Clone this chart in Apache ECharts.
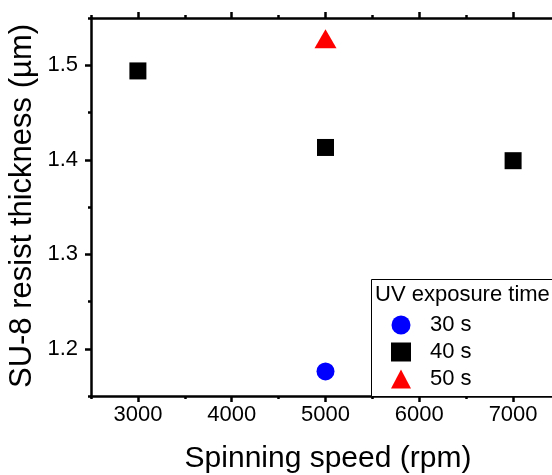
<!DOCTYPE html>
<html>
<head>
<meta charset="utf-8">
<script src="https://cdn.jsdelivr.net/npm/echarts@6/dist/echarts.min.js"></script>
<style>html,body{margin:0;padding:0;background:#fff;}#chart{width:552px;height:475px;}</style>
</head>
<body>
<div id="chart"></div>
<script>
// Resist thickness vs spin speed, grouped by UV exposure time
const seriesNames = ['30 s', '40 s', '50 s'];
const speed30 = [5000];
const thick30 = [1.176];
const speed40 = [3000, 5000, 7000];
const thick40 = [1.494, 1.413, 1.399];
const speed50 = [5000];
const thick50 = [1.528];

const xMajorTicks = [3000, 4000, 5000, 6000, 7000];
const xMinorTicks = [2500, 3500, 4500, 5500, 6500, 7500];
const yMajorTicks = [1.2, 1.3, 1.4, 1.5];
const yMinorTicks = [1.15, 1.25, 1.35, 1.45, 1.55];

const FONT = 'Liberation Sans, Arial, sans-serif';
const X_MIN = 2500, X_MAX = 7500, Y_MIN = 1.15, Y_MAX = 1.55;

function pairs(xs, ys) { return xs.map((x, i) => [x, ys[i]]); }

function xAxisDef(pos, ticks, len, showLine, labels) {
  return {
    type: 'value', position: pos, min: X_MIN, max: X_MAX,
    axisLine: { show: showLine, lineStyle: { color: '#000', width: 2.5 } },
    axisTick: { show: true, customValues: ticks, length: len, inside: false, lineStyle: { color: '#000', width: 2.5 } },
    axisLabel: labels ? { show: true, customValues: xMajorTicks, color: '#000', fontSize: 22, fontFamily: FONT, margin: 8, formatter: v => String(v) } : { show: false },
    splitLine: { show: false }
  };
}
function yAxisDef(pos, ticks, len, showLine, labels) {
  return {
    type: 'value', position: pos, min: Y_MIN, max: Y_MAX,
    axisLine: { show: showLine, lineStyle: { color: '#000', width: 2.5 } },
    axisTick: { show: true, customValues: ticks, length: len, inside: false, lineStyle: { color: '#000', width: 2.5 } },
    axisLabel: labels ? { show: true, customValues: yMajorTicks, color: '#000', fontSize: 22, fontFamily: FONT, margin: 13, formatter: v => v.toFixed(1) } : { show: false },
    splitLine: { show: false }
  };
}

const chart = echarts.init(document.getElementById('chart'), null, { renderer: 'canvas' });
chart.setOption({
  animation: false,
  backgroundColor: '#fff',
  grid: { left: 91, top: 18, width: 469, height: 378, containLabel: false, outerBoundsMode: 'none' },
  xAxis: [
    xAxisDef('bottom', xMajorTicks, 6, true, true),
    xAxisDef('bottom', xMinorTicks, 3, false, false),
    xAxisDef('top', xMajorTicks, 6, true, false),
    xAxisDef('top', xMinorTicks, 3, false, false)
  ],
  yAxis: [
    yAxisDef('left', yMajorTicks, 6, true, true),
    yAxisDef('left', yMinorTicks, 3, false, false),
    yAxisDef('right', yMajorTicks, 6, true, false)
  ],
  legend: {
    orient: 'vertical', left: 386, top: 309, itemGap: 5,
    itemWidth: 20, itemHeight: 19,
    textStyle: { color: '#000', fontSize: 22, fontFamily: FONT, padding: [0, 0, 0, 14] },
    data: [
      { name: seriesNames[0], icon: 'circle' },
      { name: seriesNames[1], icon: 'rect' },
      { name: seriesNames[2], icon: 'triangle' }
    ]
  },
  graphic: [
    { type: 'rect', shape: { x: 371.5, y: 279.5, width: 200, height: 117 }, style: { fill: '#fff', stroke: '#000', lineWidth: 1 }, z: 1 },
    { type: 'text', x: 375, y: 284, style: { text: 'UV exposure time', fill: '#000', font: '22px ' + FONT }, z: 2 },
    { type: 'text', x: 328, y: 459, style: { text: 'Spinning speed (rpm)', fill: '#000', font: '30px ' + FONT, align: 'center', verticalAlign: 'middle' } },
    { type: 'text', x: 22, y: 206, rotation: Math.PI / 2, style: { text: 'SU-8 resist thickness (\u00b5m)', fill: '#000', font: '31px ' + FONT, align: 'center', verticalAlign: 'middle' } }
  ],
  series: [
    { name: seriesNames[0], type: 'scatter', xAxisIndex: 0, yAxisIndex: 0, symbol: 'circle', symbolSize: 18,
      itemStyle: { color: '#0000ff', opacity: 1 }, data: pairs(speed30, thick30), z: 5 },
    { name: seriesNames[1], type: 'scatter', xAxisIndex: 0, yAxisIndex: 0, symbol: 'rect', symbolSize: 17,
      itemStyle: { color: '#000', opacity: 1 }, data: pairs(speed40, thick40), z: 5 },
    { name: seriesNames[2], type: 'scatter', xAxisIndex: 0, yAxisIndex: 0, symbol: 'triangle', symbolSize: [22, 19],
      itemStyle: { color: '#ff0000', opacity: 1 }, data: pairs(speed50, thick50), z: 5 }
  ]
});
</script>
</body>
</html>
